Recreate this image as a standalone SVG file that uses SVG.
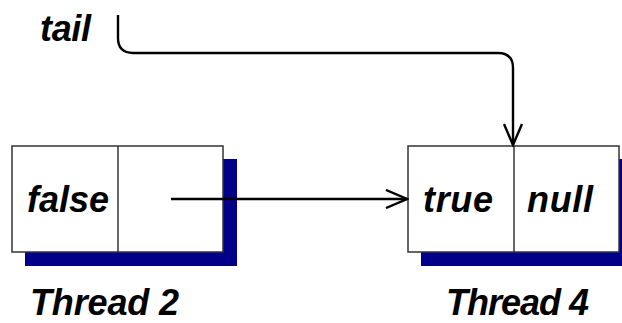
<svg xmlns="http://www.w3.org/2000/svg" width="622" height="323" viewBox="0 0 622 323">
<style>
.shadow{fill:#000088}
.box{fill:#fff;stroke:#333;stroke-width:1.5}
.div{stroke:#333;stroke-width:1.5}
.lbl{font-family:"Liberation Sans",Arial,sans-serif;font-weight:bold;font-style:italic;font-size:36px;fill:#000}
.conn{fill:none;stroke:#000;stroke-width:2.4}
</style>
<defs>
<marker id="open" viewBox="0 0 24 20" refX="22" refY="10" markerWidth="24" markerHeight="20" markerUnits="userSpaceOnUse" orient="auto">
<path d="M1,1 L22,10 L1,19" fill="none" stroke="#000" stroke-width="2.4"/>
</marker>
</defs>
<rect width="622" height="323" fill="#fff"/>
<g id="thread2">
<rect class="shadow" x="25" y="159" width="212" height="107"/>
<rect class="box" x="12" y="146" width="211" height="106"/>
<line class="div" x1="118" y1="146" x2="118" y2="252"/>
<text class="lbl" x="27" y="212" textLength="82">false</text>
<text class="lbl" x="30" y="315" textLength="149">Thread 2</text>
</g>
<g id="thread4">
<rect class="shadow" x="421" y="159" width="212" height="107"/>
<rect class="box" x="408" y="146" width="211" height="106"/>
<line class="div" x1="514" y1="146" x2="514" y2="252"/>
<text class="lbl" x="423" y="212" textLength="70">true</text>
<text class="lbl" x="527" y="212" textLength="66">null</text>
<text class="lbl" x="446" y="315" textLength="143">Thread 4</text>
</g>
<g id="tail">
<text class="lbl" x="40" y="41" textLength="51">tail</text>
</g>
<g id="connectors">
<path class="conn" d="M118,15 L118,38 Q118,53 133,53 L498,53 Q513,53 513,68 L513,145" marker-end="url(#open)"/>
<path class="conn" d="M171,199 L407,199" marker-end="url(#open)"/>
</g>
</svg>
